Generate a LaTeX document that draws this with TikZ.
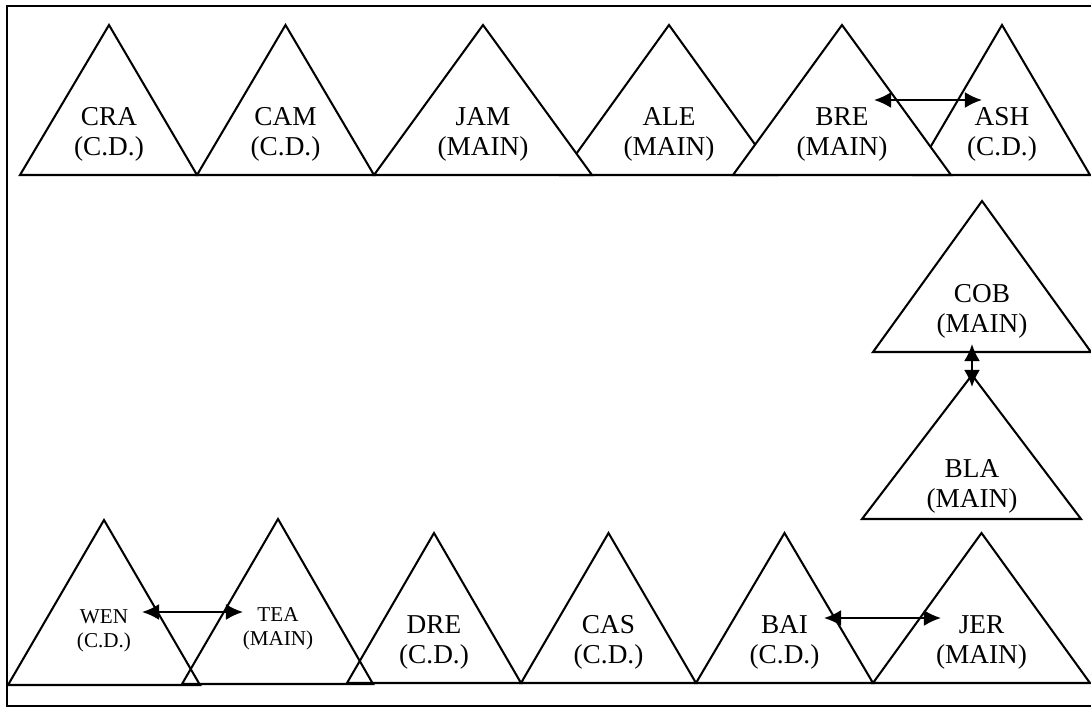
\documentclass[tikz,border=0pt]{standalone}
\usepackage{fontspec}
\setmainfont{Liberation Serif}
\usetikzlibrary{arrows.meta}

\begin{document}
\begin{tikzpicture}[
  x=0.44pt, y=-0.44pt,
  tri/.style={draw=black, fill=white, line width=0.9pt},
  open/.style={draw=black, line width=0.9pt},
  lbl/.style={align=center, inner sep=0pt, font=\fontsize{12}{13.2}\selectfont},
  small/.style={align=center, inner sep=0pt, font=\fontsize{9.3}{10.6}\selectfont},
  ar/.style={{Latex[length=7.5pt,width=7pt]}-{Latex[length=7.5pt,width=7pt]}, line width=0.9pt},
]
\useasboundingbox (0,0) rectangle (1091,707);
\draw[line width=0.9pt] (7,6) rectangle (1100,706);

% top row (filled, later ones hide earlier ones)
\draw[tri] (914,175) -- (1002,25) -- (1090,175) -- cycle;
\draw[tri] (561,175) -- (669,25) -- (777,175) -- cycle;
\draw[tri] (20,175) -- (109,25) -- (197,175) -- cycle;
\draw[tri] (197,175) -- (285.5,25) -- (374,175) -- cycle;
\draw[tri] (374,175) -- (483,25) -- (592,175) -- cycle;
\draw[tri] (733,175) -- (842,25) -- (951,175) -- cycle;

\node[lbl] (cra) at (109,134) {CRA\\(C.D.)};
\node[lbl] (cam) at (285.5,134) {CAM\\(C.D.)};
\node[lbl] (jam) at (483,134) {JAM\\(MAIN)};
\node[lbl] (ale) at (669,134) {ALE\\(MAIN)};
\node[lbl] (bre) at (842,134) {BRE\\(MAIN)};
\node[lbl] (ash) at (1002,134) {ASH\\(C.D.)};

% right column
\draw[tri] (873,352) -- (982,201) -- (1091,352) -- cycle;
\draw[tri] (862,519) -- (972,375) -- (1081,519) -- cycle;
\node[lbl] (cob) at (982,311) {COB\\(MAIN)};
\node[lbl] (bla) at (972,486) {BLA\\(MAIN)};

% bottom row
\draw[open] (8,685) -- (104,520) -- (200,685) -- cycle;
\draw[open] (182,684) -- (278,519) -- (373,684) -- cycle;
\draw[open] (347,683) -- (434,533) -- (521,683) -- cycle;
\draw[open] (521,683) -- (608.5,533) -- (696,683) -- cycle;
\draw[open] (696,683) -- (784.5,533) -- (873,683) -- cycle;
\draw[open] (873,683) -- (981.5,533) -- (1090,683) -- cycle;

\node[small] (wen) at (104,630.5) {WEN\\(C.D.)};
\node[small] (tea) at (278,628.5) {TEA\\(MAIN)};
\node[lbl] (dre) at (434,642) {DRE\\(C.D.)};
\node[lbl] (cas) at (608.5,642) {CAS\\(C.D.)};
\node[lbl] (bai) at (784.5,642) {BAI\\(C.D.)};
\node[lbl] (jer) at (981.5,642) {JER\\(MAIN)};

% links
\coordinate (breR) at (874,100);
\coordinate (ashL) at (982,100);
\coordinate (cobB) at (972,344);
\coordinate (blaT) at (972,387);
\coordinate (wenR) at (142,612);
\coordinate (teaL) at (243,612);
\coordinate (baiR) at (824,618);
\coordinate (jerL) at (941,618);

\draw[ar] (breR) -- (ashL);
\draw[ar] (cobB) -- (blaT);
\draw[ar] (wenR) -- (teaL);
\draw[ar] (baiR) -- (jerL);
\end{tikzpicture}
\end{document}
